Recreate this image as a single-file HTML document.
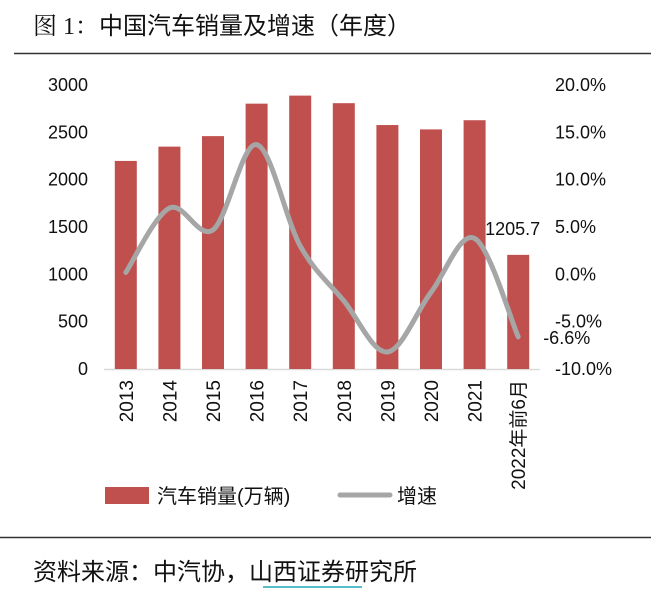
<!DOCTYPE html>
<html><head><meta charset="utf-8"><style>
body{margin:0;background:#fff;width:651px;height:593px;overflow:hidden;font-family:"Liberation Sans","Noto Sans CJK SC",sans-serif}
</style></head><body>
<svg width="651" height="593" id="c" style="font-family:'Liberation Sans','Noto Sans CJK SC',sans-serif">
<text x="33" y="34" font-size="24" fill="#111"><tspan font-family="'Liberation Serif','Noto Serif CJK SC',serif">图 1：</tspan>中国汽车销量及增速（年度）</text>
<line x1="14" y1="53.5" x2="651" y2="53.5" stroke="#333" stroke-width="1.5"/>
<line x1="0" y1="537.5" x2="651" y2="537.5" stroke="#333" stroke-width="1.5"/>
<text x="33" y="580" font-size="24" fill="#111">资料来源：中汽协，<tspan>山西证券</tspan>研究所</text>
<line x1="263" y1="587" x2="362" y2="587" stroke="#2ab" stroke-width="1.5"/>
<g id="plot"></g>
<rect x="105" y="487" width="44" height="17" fill="#c0504d"/>
<text x="157" y="503" font-size="20" fill="#111">汽车销量(万辆)</text>
<line x1="340" y1="495" x2="390" y2="495" stroke="#a6a6a6" stroke-width="5" stroke-linecap="round"/>
<text x="397" y="503" font-size="20" fill="#111">增速</text>
</svg>
<script>
const categories=["2013","2014","2015","2016","2017","2018","2019","2020","2021","2022年前6月"];
const sales=[2198,2349,2460,2803,2888,2808,2577,2531,2628,1205.7];
const growth=[0.2,7.0,4.7,13.7,3.0,-2.8,-8.2,-1.9,3.8,-6.6];
const leftTicks=[0,500,1000,1500,2000,2500,3000];
const rightTicks=[-10,-5,0,5,10,15,20];
const NS="http://www.w3.org/2000/svg";
const g=document.getElementById('plot');
const yTop=85,yBot=369,x0=104,x1=540;
const yL=v=>yBot-(v/3000)*(yBot-yTop);
const yR=v=>yBot-((v+10)/30)*(yBot-yTop);
const step=(x1-x0)/categories.length;
const xC=i=>x0+step*(i+0.5);
function mk(t,a){const e=document.createElementNS(NS,t);for(const k in a)e.setAttribute(k,a[k]);g.appendChild(e);return e;}
leftTicks.forEach(v=>{const t=mk('text',{x:88,y:yL(v)+6,'text-anchor':'end','font-size':18,fill:'#111'});t.textContent=v;

});
rightTicks.forEach(v=>{const t=mk('text',{x:555,y:yR(v)+6,'font-size':18,fill:'#111'});t.textContent=v.toFixed(1)+'%';

});
const ax=mk('line',{x1:x0,y1:yBot+0.5,x2:x1,y2:yBot+0.5,stroke:'#d9d9d9','stroke-width':1.5});


sales.forEach((v,i)=>{const r=mk('rect',{x:xC(i)-11,y:yL(v),width:22,height:yBot-yL(v),fill:'#c0504d'});

});
categories.forEach((c,i)=>{const t=mk('text',{transform:`translate(${xC(i)+7},${yBot+11}) rotate(-90)`,'text-anchor':'end','font-size':19,fill:'#111'});t.textContent=c;

});
const pts=growth.map((v,i)=>[xC(i),yR(v)]);
let d='M'+pts[0].join(',');
for(let i=0;i<pts.length-1;i++){const p0=pts[i-1]||pts[i],p1=pts[i],p2=pts[i+1],p3=pts[i+2]||p2;
d+=` C${p1[0]+(p2[0]-p0[0])/6},${p1[1]+(p2[1]-p0[1])/6} ${p2[0]-(p3[0]-p1[0])/6},${p2[1]-(p3[1]-p1[1])/6} ${p2[0]},${p2[1]}`;}
const ln=mk('path',{d:d,fill:'none',stroke:'#a6a6a6','stroke-width':5,'stroke-linecap':'round'});


const n=sales.length-1;
const l1=mk('text',{x:xC(n)+22,y:yL(sales[n])-20,'text-anchor':'end','font-size':18,fill:'#111'});l1.textContent=sales[n];


const l2=mk('text',{x:xC(n)+25,y:yR(growth[n])+7,'font-size':18,fill:'#111'});l2.textContent=growth[n].toFixed(1)+'%';


</script>
</body></html>
